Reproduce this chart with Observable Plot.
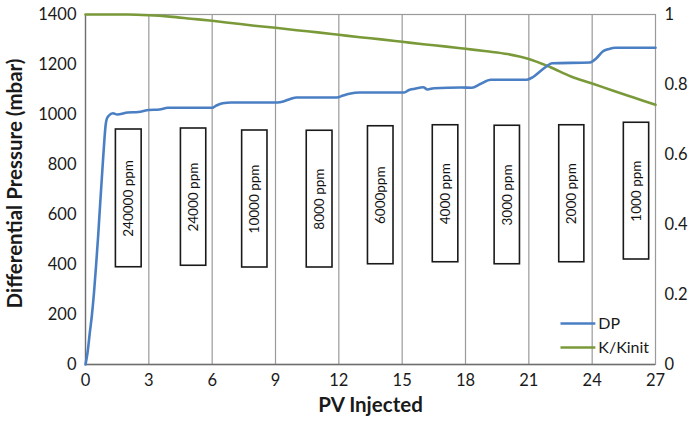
<!DOCTYPE html>
<html>
<head>
<meta charset="utf-8">
<script src="https://cdn.jsdelivr.net/npm/d3@7"></script>
<script src="https://cdn.jsdelivr.net/npm/@observablehq/plot@0.6"></script>
<style>
  html, body { margin: 0; padding: 0; background: #fff; }
  #chart svg { display: block; }
</style>
</head>
<body>
<div id="chart"></div>
<script>
// ---- data ----
const xTicks = [0, 3, 6, 9, 12, 15, 18, 21, 24, 27];
const yTicks = [0, 200, 400, 600, 800, 1000, 1200, 1400];
const ratioTicks = [0, 0.2, 0.4, 0.6, 0.8, 1];
const yMax = 1400; // secondary axis: K/Kinit = 1 at 1400 mbar

// Differential pressure (mbar) vs PV injected
const dpPV = [0, 0.1, 0.2, 0.3, 0.4, 0.5, 0.6, 0.7, 0.8, 0.9, 0.95, 1.0, 1.1, 1.3, 1.5, 2.0, 2.5, 3.0, 3.5, 3.9, 4.5, 6.0, 6.2, 6.5, 6.9, 9.1, 9.4, 9.7, 10.0, 11.9, 12.2, 12.5, 13.0, 15.1, 15.3, 15.6, 16.0, 16.2, 16.5, 17.8, 18.3, 18.7, 19.2, 20.9, 21.2, 21.5, 21.8, 22.1, 23.9, 24.2, 24.5, 24.8, 25.1, 27];
const dpVal = [0, 50, 124, 195, 285, 395, 515, 650, 780, 905, 955, 980, 995, 1005, 1000, 1008, 1010, 1018, 1020, 1027, 1027, 1027, 1036, 1045, 1048, 1048, 1053, 1062, 1068, 1068, 1076, 1083, 1088, 1088, 1097, 1103, 1109, 1100, 1105, 1108, 1107, 1122, 1139, 1139, 1150, 1170, 1190, 1205, 1208, 1225, 1252, 1262, 1267, 1267];

// K/Kinit vs PV injected
const kPV = [0, 1, 2, 3, 4, 5, 6, 7, 8, 9, 10, 11, 12, 13, 14, 15, 16, 17, 18, 19, 20, 21, 22, 23, 24, 25, 26, 27];
const kVal = [1.0, 1.0, 1.0, 0.998, 0.994, 0.988, 0.982, 0.975, 0.968, 0.962, 0.955, 0.949, 0.942, 0.935, 0.929, 0.922, 0.915, 0.909, 0.902, 0.895, 0.887, 0.873, 0.850, 0.823, 0.803, 0.782, 0.762, 0.742];

// Concentration annotation boxes (data units)
const boxLabels = ["240000 ppm", "24000 ppm", "10000 ppm", "8000 ppm", "6000ppm", "4000 ppm", "3000 ppm", "2000 ppm", "1000 ppm"];
const boxX1 = [1.44, 4.52, 7.42, 10.48, 13.38, 16.45, 19.38, 22.44, 25.50];
const boxX2 = [2.66, 5.72, 8.62, 11.70, 14.59, 17.66, 20.58, 23.63, 26.70];
const boxYLow = [389, 395, 388, 388, 401, 409, 401, 409, 420];
const boxYHigh = [940, 944, 936, 935, 953, 957, 955, 957, 967];

// Legend
const legendNames = ["DP", "K/Kinit"];
const legendColors = ["#4b7fc4", "#7a9a3a"];
const legendY = [164, 68];
const legendX = [22.5, 24.15];

// ---- build tables ----
const dpData = dpPV.map((x, i) => ({x, y: dpVal[i]}));
const kData = kPV.map((x, i) => ({x, y: kVal[i] * yMax}));
const boxes = boxLabels.map((label, i) => ({label, x1: boxX1[i], x2: boxX2[i], y1: boxYLow[i], y2: boxYHigh[i]}));
const legend = legendNames.map((name, i) => ({name, color: legendColors[i], y: legendY[i]}));

const font = "Lato, 'Open Sans', sans-serif";

const chart = Plot.plot({
  width: 689,
  height: 422,
  marginLeft: 85,
  marginRight: 34,
  marginTop: 14,
  marginBottom: 58,
  style: {fontFamily: font, fontSize: "16px", color: "#1a1a1a", background: "#fff"},
  x: {domain: [0, 27]},
  y: {domain: [0, yMax]},
  marks: [
    Plot.ruleX(xTicks.slice(1, -1), {stroke: "#9a9a9a", strokeWidth: 1.2}),
    Plot.frame({stroke: "#9a9a9a", strokeWidth: 1.2}),
    Plot.ruleX([0], {stroke: "#6e6e6e", strokeWidth: 1.3}),
    Plot.ruleY([0], {stroke: "#6e6e6e", strokeWidth: 1.3}),
    Plot.axisX({ticks: xTicks, tickSize: 0, tickPadding: 10, label: null, fontSize: 16.5}),
    Plot.axisY({ticks: yTicks, tickFormat: d => String(d), tickSize: 0, tickPadding: 9, label: null, fontSize: 16.5}),
    Plot.axisY({anchor: "right", ticks: ratioTicks.map(d => d * yMax), tickFormat: d => String(+(d / yMax).toFixed(1)), tickSize: 0, tickPadding: 9, label: null, fontSize: 16.5}),
    Plot.rect(boxes, {x1: "x1", x2: "x2", y1: "y1", y2: "y2", fill: "#fff", stroke: "#1a1a1a", strokeWidth: 1.6}),
    Plot.text(boxes, {x: d => (d.x1 + d.x2) / 2, y: d => (d.y1 + d.y2) / 2, text: "label", rotate: -90, fontSize: 13.5, fill: "#111"}),
    Plot.line(kData, {x: "x", y: "y", stroke: legendColors[1], strokeWidth: 2.6, curve: "monotone-x"}),
    Plot.line(dpData, {x: "x", y: "y", stroke: legendColors[0], strokeWidth: 2.6, curve: "monotone-x"}),
    Plot.link(legend, {x1: legendX[0], x2: legendX[1], y1: "y", y2: "y", stroke: "color", strokeWidth: 2.6}),
    Plot.text(legend, {x: legendX[1], y: "y", text: "name", textAnchor: "start", dx: 3, fontSize: 16, fill: "#1a1a1a"}),
    Plot.text(["Differential Pressure (mbar)"], {frameAnchor: "left", textAnchor: "middle", dx: -70, dy: -6, rotate: -90, fontSize: 20.5, fontWeight: "bold", fill: "#1a1a1a"}),
    Plot.text(["PV Injected"], {frameAnchor: "bottom", textAnchor: "middle", dy: 47, fontSize: 20.5, fontWeight: "bold", fill: "#1a1a1a"})
  ]
});
document.getElementById("chart").appendChild(chart);
</script>
</body>
</html>
